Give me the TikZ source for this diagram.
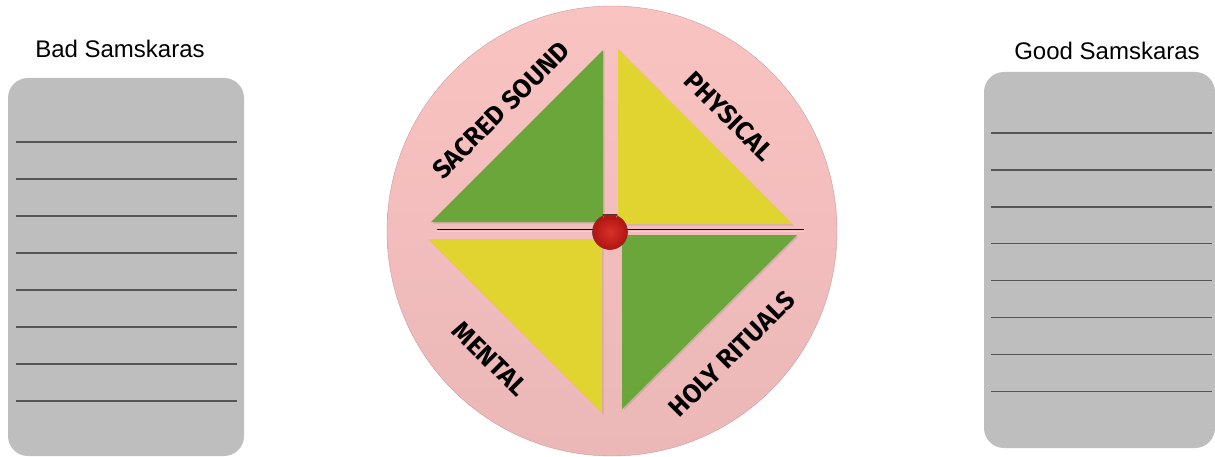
\documentclass[tikz,border=0pt]{standalone}
\usepackage{fontspec}
\setmainfont{Liberation Sans}
\newfontfamily\wheelfont{Fira Sans}
\usepackage{tikz}
\usetikzlibrary{shadows}
\definecolor{wheelTop}{HTML}{F9C3C1}
\definecolor{wheelBot}{HTML}{EBB7B7}
\definecolor{leafG}{HTML}{6AA63A}
\definecolor{leafY}{HTML}{E1D431}
\definecolor{listBox}{HTML}{BEBEBE}
\definecolor{listLine}{HTML}{555555}
\definecolor{hubRed}{HTML}{D41A14}

\tikzset{
  listbox/.style={fill=listBox,rounded corners=20pt,inner sep=0pt},
  listrule/.style={listLine,line width=1.5pt},
  leaf/.style={drop shadow={opacity=0.25,shadow xshift=1.5pt,shadow yshift=-1.5pt}},
  quarter/.style={font=\wheelfont\bfseries\fontsize{26}{26}\selectfont,inner sep=0pt},
  title/.style={font=\fontsize{24}{24}\selectfont,inner sep=0pt}
}

\begin{document}
\begin{tikzpicture}[x=1pt,y=1pt]
  \useasboundingbox (0,0) rectangle (1215,456);
  % two lists
  \node[listbox,minimum width=236pt,minimum height=378pt] (bad) at (126,189) {};
  \node[listbox,minimum width=231pt,minimum height=376pt] (good) at (1099.5,196) {};
  \node[title] (badT) at (120,407) {Bad Samskaras};
  \node[title] (goodT) at (1107,405) {Good Samskaras};
  \foreach \k in {0,...,7}{
    \draw[listrule] (16,314-37*\k) -- (237,314-37*\k);
    \draw[listrule] (991,323-36.9*\k) -- (1212,323-36.9*\k);
  }
  % wheel
  \node[circle,minimum size=450pt,inner sep=0pt,top color=wheelTop,bottom color=wheelBot,
        draw=wheelBot!85!black,line width=0.4pt] (wheel) at (612,225) {};
  \fill[leafG,leaf] (603,406) -- (431,234) -- (603,234) -- cycle;
  \fill[leafY,leaf] (618,407) -- (618,232) -- (792,232) -- cycle;
  \fill[leafY,leaf] (428,217) -- (602,217) -- (602,43) -- cycle;
  \fill[leafG,leaf] (622,221) -- (797,221) -- (622,47) -- cycle;
  \draw[black,line width=0.8pt] (437,226.5) -- (804,226.5);
  \draw[white!70!gray,line width=0.6pt] (437,225) -- (804,225);
  % hub
  \node[circle,minimum size=35pt,inner sep=0pt] (hub) at (610,224) {};
  \draw[black!75,line width=0.6pt] (603,228) rectangle (617,241.5) (hub) circle (17.5pt);
  \fill[hubRed!85!black] (603,228) rectangle (617,241.5) (hub) circle (17.5pt);
  \shade[inner color=hubRed!90!white,outer color=hubRed!85!black] (hub) circle (16pt);
  \fill[hubRed!85!black] (604,236) rectangle (616,241.2);
  % quarter labels
  \node[quarter,rotate=45] (sound) at (501,346) {SACRED SOUND};
  \node[quarter,rotate=-45] (body) at (729,340) {PHYSICAL};
  \node[quarter,rotate=-45] (mind) at (490,97) {MENTAL};
  \node[quarter,rotate=45] (rite) at (732,102) {HOLY RITUALS};
\end{tikzpicture}
\end{document}
